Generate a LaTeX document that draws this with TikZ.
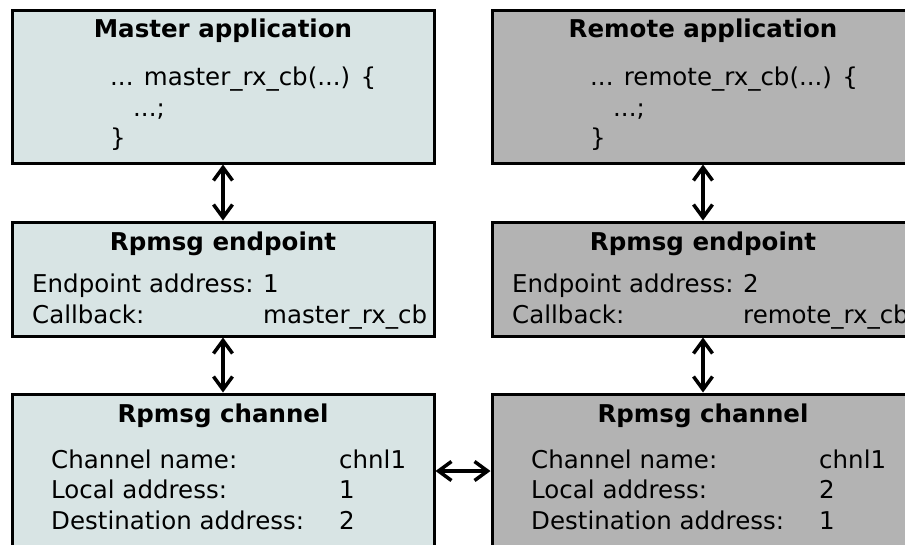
\documentclass[tikz,border=0pt]{standalone}
\usepackage{fontspec}
\setmainfont{DejaVu Sans}
\usetikzlibrary{positioning, arrows.meta}
\definecolor{masterfill}{RGB}{216,228,228}
\definecolor{remotefill}{RGB}{179,179,179}

\begin{document}
\begin{tikzpicture}[x=1pt, y=-1pt,
        box/.style={draw, line width=3pt, rectangle, minimum width=422pt, inner sep=0pt},
        masterbox/.style={box, fill=masterfill},
        remotebox/.style={box, fill=remotefill},
        title/.style={font=\fontsize{24.5}{30}\selectfont\bfseries, anchor=base, inner sep=0pt},
        txt/.style={font=\fontsize{24.5}{30}\selectfont, anchor=base west, inner sep=0pt},
        link/.style={line width=3.5pt, >={Straight Barb[length=13pt, width=19pt]}, <->}]
            \useasboundingbox (0,0) rectangle (905,544);
            \clip (0,0) rectangle (905,544);

            % Boxes
            \node[masterbox, minimum height=152.5pt] (app1) at (223,86.75) {};
            \node[masterbox, minimum height=114pt] (ep1) at (223,279) {};
            \node[masterbox, minimum height=154pt] (ch1) at (223,471) {};
            \node[remotebox, minimum height=152.5pt] (app2) at (703,86.75) {};
            \node[remotebox, minimum height=114pt] (ep2) at (703,279) {};
            \node[remotebox, minimum height=154pt] (ch2) at (703,471) {};

            % Master side
            \node[title] (app1t) at (223,37.5) {Master application};
            \node[txt] (app1a) at (110,85) {... master\_rx\_cb(...) \{};
            \node[txt] (app1b) at (133,116) {...;};
            \node[txt] (app1c) at (110,146) {\}};

            \node[title] (ep1t) at (223,250) {Rpmsg endpoint};
            \node[txt] (ep1a) at (32,292) {Endpoint address:};
            \node[txt] (ep1av) at (263,292) {1};
            \node[txt] (ep1b) at (32,323) {Callback:};
            \node[txt] (ep1bv) at (263,323) {master\_rx\_cb};

            \node[title] (ch1t) at (223,422) {Rpmsg channel};
            \node[txt] (ch1a) at (51,468) {Channel name:};
            \node[txt] (ch1av) at (339,468) {chnl1};
            \node[txt] (ch1b) at (51,498) {Local address:};
            \node[txt] (ch1bv) at (339,498) {1};
            \node[txt] (ch1c) at (51,529) {Destination address:};
            \node[txt] (ch1cv) at (339,529) {2};

            % Remote side
            \node[title] (app2t) at (703,37.5) {Remote application};
            \node[txt] (app2a) at (590,85) {... remote\_rx\_cb(...) \{};
            \node[txt] (app2b) at (613,116) {...;};
            \node[txt] (app2c) at (590,146) {\}};

            \node[title] (ep2t) at (703,250) {Rpmsg endpoint};
            \node[txt] (ep2a) at (512,292) {Endpoint address:};
            \node[txt] (ep2av) at (743,292) {2};
            \node[txt] (ep2b) at (512,323) {Callback:};
            \node[txt] (ep2bv) at (743,323) {remote\_rx\_cb};

            \node[title] (ch2t) at (703,422) {Rpmsg channel};
            \node[txt] (ch2a) at (531,468) {Channel name:};
            \node[txt] (ch2av) at (819,468) {chnl1};
            \node[txt] (ch2b) at (531,498) {Local address:};
            \node[txt] (ch2bv) at (819,498) {2};
            \node[txt] (ch2c) at (531,529) {Destination address:};
            \node[txt] (ch2cv) at (819,529) {1};

            % Draw links
            \draw[link] (app1) -- (ep1);
            \draw[link] (ep1) -- (ch1);
            \draw[link] (app2) -- (ep2);
            \draw[link] (ep2) -- (ch2);
            \draw[link] (ch1) -- (ch2);
        \end{tikzpicture}
\end{document}
